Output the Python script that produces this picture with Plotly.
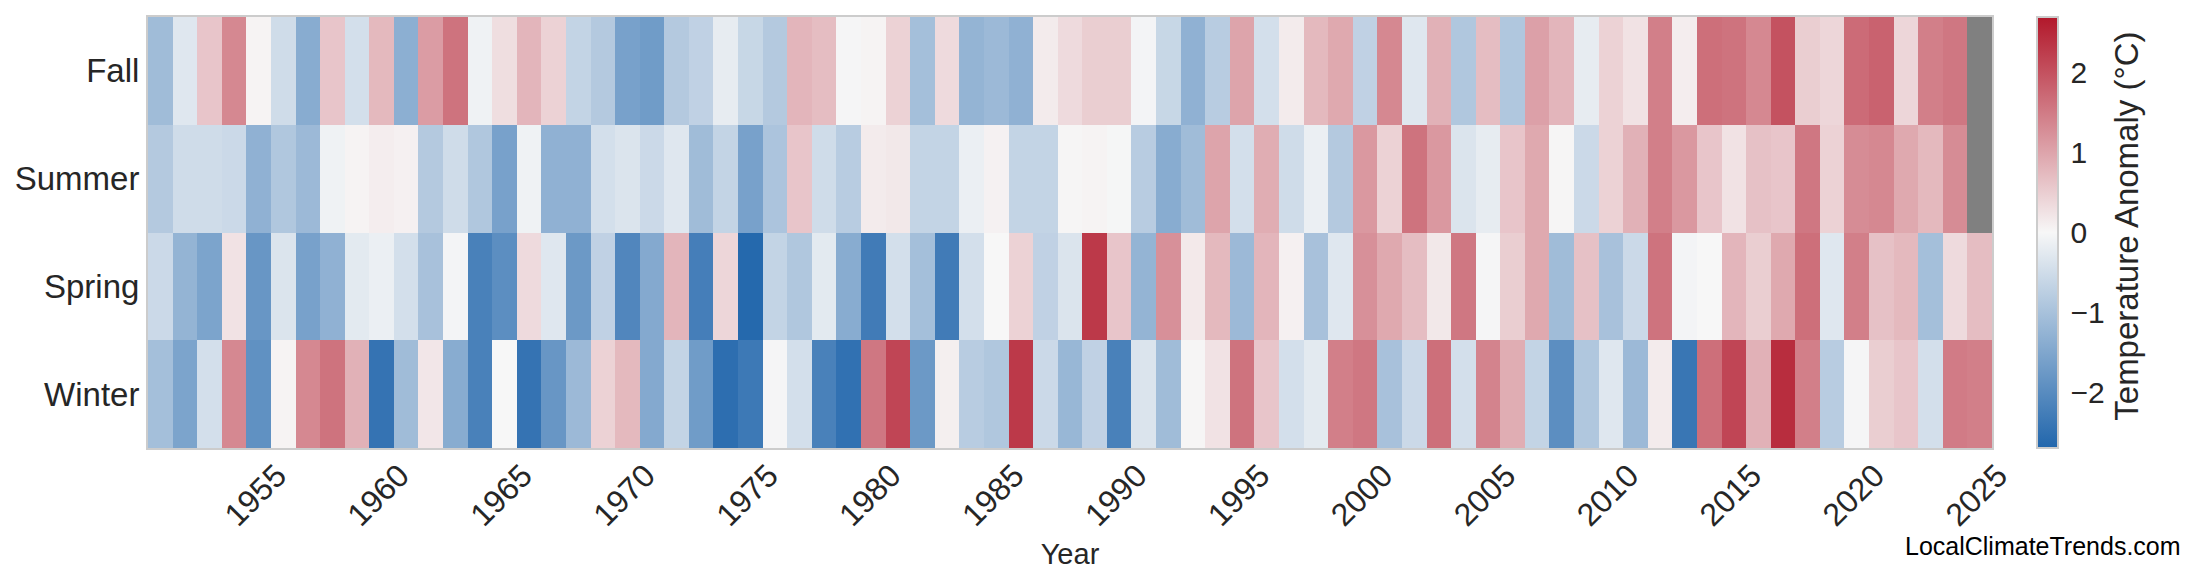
import plotly.graph_objects as go

years = list(range(1950, 2025))
seasons = ["Winter", "Spring", "Summer", "Fall"]

fall = [-1.1, -0.3, 0.6, 1.35, 0.05, -0.5, -1.4, 0.6, -0.45, 0.75, -1.35, 1.1, 1.6, -0.1, 0.3,
        0.8, 0.45, -0.65, -0.85, -1.6, -1.7, -0.85, -0.7, -0.2, -0.6, -0.85, 0.8, 0.7, -0.03, 0.05,
        0.45, -1.05, 0.35, -1.25, -1.15, -1.3, 0.15, 0.35, 0.5, 0.5, -0.05, -0.6, -1.3, -0.8, 1.0,
        -0.45, 0.15, 0.75, 0.95, -0.7, 1.35, -0.3, 0.85, -0.9, 0.7, -0.9, 1.05, 0.8, -0.2, 0.45,
        0.25, 1.45, 0.12, 1.65, 1.6, 1.35, 2.0, 0.5, 0.4, 1.7, 1.8, 0.4, 1.45, 1.55, None]

summer = [-0.85, -0.5, -0.5, -0.55, -1.3, -0.9, -1.15, -0.1, 0.05, 0.12, 0.08, -0.85, -0.5, -0.9, -1.6,
          -0.1, -1.3, -1.3, -0.45, -0.35, -0.55, -0.3, -1.1, -0.65, -1.6, -0.95, 0.6, -0.5, -0.8, 0.15,
          0.18, -0.65, -0.65, -0.15, 0.07, -0.65, -0.65, 0.02, 0.05, -0.02, -0.8, -1.4, -1.1, 1.0, -0.45,
          0.9, -0.5, -0.15, -0.85, 1.15, 0.45, 1.6, 1.15, -0.35, -0.2, 0.6, 0.95, 0.02, -0.55, 0.45,
          0.85, 1.45, 1.15, 0.6, 0.25, 0.65, 0.6, 1.55, 0.45, 1.3, 1.35, 0.95, 0.75, 1.3, None]

spring = [-0.55, -1.25, -1.55, 0.25, -1.8, -0.35, -1.6, -1.3, -0.25, -0.15, -0.45, -1.0, -0.05, -2.2, -1.95,
          0.35, -0.3, -1.75, -0.7, -2.1, -1.45, 0.8, -2.25, 0.4, -2.65, -0.65, -0.9, -0.25, -1.4, -2.3,
          -0.45, -1.05, -2.3, -0.45, 0.0, 0.45, -0.7, -0.35, 2.3, 0.6, -1.25, 1.25, 0.17, 0.75, -1.15,
          0.8, 0.08, -1.0, -0.3, 1.25, 0.95, 0.7, 0.18, 1.55, -0.03, 0.5, 0.95, -1.1, 0.65, -1.0,
          -0.55, 1.6, -0.05, 0.0, 0.8, 0.5, 0.95, 1.65, -0.3, 1.45, 0.65, 0.75, -1.05, 0.35, 0.7]

winter = [-1.05, -1.55, -0.45, 1.35, -1.9, 0.05, 1.35, 1.6, 0.85, -2.45, -1.1, 0.2, -1.4, -2.2, 0.0,
          -2.45, -1.8, -1.15, 0.45, 0.75, -1.45, -0.65, -1.7, -2.55, -2.35, -0.03, -0.45, -2.2, -2.5, 1.55,
          2.15, -1.75, 0.1, -0.8, -0.9, 2.3, -0.55, -1.2, -0.7, -2.2, -0.35, -1.1, 0.03, 0.25, 1.6,
          0.6, -0.45, -0.25, 1.45, 1.55, -1.0, -0.55, 1.65, -0.45, 1.4, 0.9, -0.65, -1.95, -0.9, -0.3,
          -1.15, 0.15, -2.4, 1.65, 2.15, 0.85, 2.45, 1.45, -0.8, -0.03, 0.5, 0.6, -0.45, 1.5, 1.45]

tick_years = list(range(1955, 2026, 5))
cbar_ticks = [-2, -1, 0, 1, 2]
cbar_text = ["\u22122", "\u22121", "0", "1", "2"]

FONT = "Arial, Liberation Sans, sans-serif"
TXT = "#262626"

x_edges = years + [years[-1] + 1]

fig = go.Figure(go.Heatmap(
    z=[winter, spring, summer, fall],
    x=x_edges,
    y=seasons,
    zmin=-2.7, zmax=2.7,
    colorscale=[[0.0, "#2166ac"], [0.5, "#f7f7f7"], [1.0, "#b2182b"]],
    colorbar=dict(
        x=1.0244, xanchor="left", xpad=0, ypad=0,
        y=0.5, yanchor="middle", len=1, lenmode="fraction",
        thickness=21, thicknessmode="pixels",
        outlinecolor="#cccccc", outlinewidth=2,
        tickvals=cbar_ticks, ticktext=cbar_text,
        ticks="outside", ticklen=6, tickcolor="rgba(0,0,0,0)",
        tickfont=dict(size=30, color=TXT, family=FONT),
    ),
    hoverongaps=False,
))

fig.update_layout(
    width=2200, height=585,
    margin=dict(l=140, r=216, t=7, b=145),
    paper_bgcolor="white",
    plot_bgcolor="#808080",
    font=dict(family=FONT, color=TXT),
    xaxis=dict(
        range=[1950, 2025], tickvals=tick_years, ticktext=[str(t) for t in tick_years],
        tickangle=-45, tickfont=dict(size=32, color=TXT, family=FONT),
        ticks="", ticklabelstandoff=-6, ticklabelshift=6,
        showgrid=False, zeroline=False,
        showline=True, linecolor="#cccccc", linewidth=2, mirror=True,
        title=dict(text="Year", font=dict(size=29, color=TXT, family=FONT), standoff=12),
    ),
    yaxis=dict(
        range=[-0.5, 3.5],
        tickfont=dict(size=33, color=TXT, family=FONT),
        ticks="",
        showgrid=False, zeroline=False,
        showline=True, linecolor="#cccccc", linewidth=2, mirror=True,
    ),
    annotations=[
        dict(
            text="Temperature Anomaly (°C)", xref="paper", yref="paper",
            x=1.0729, y=0.5144, xanchor="center", yanchor="middle", textangle=-90,
            showarrow=False, font=dict(size=33, color=TXT, family=FONT),
        ),
        dict(
            text="LocalClimateTrends.com", xref="paper", yref="paper",
            x=1.1036, y=-0.227, xanchor="right", yanchor="middle",
            showarrow=False, font=dict(size=25, color="black", family=FONT),
        ),
    ],
)

fig.write_html("out.html")
